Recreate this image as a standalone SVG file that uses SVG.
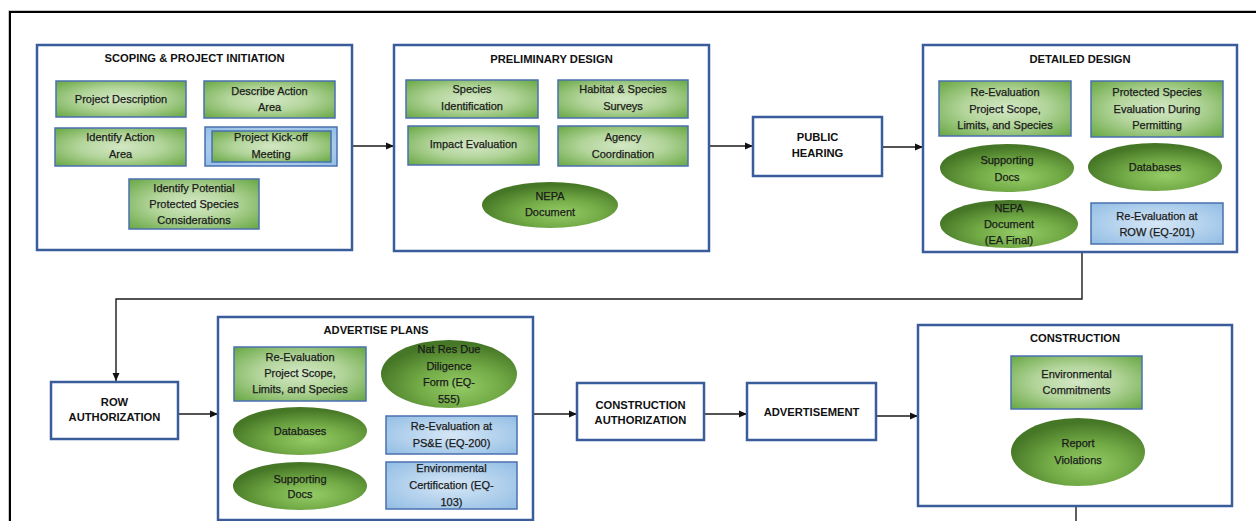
<svg xmlns="http://www.w3.org/2000/svg" width="1256" height="521" viewBox="0 0 1256 521">
<style>
text{font-family:"Liberation Sans",Arial,sans-serif;font-size:11px;fill:#1a1a1a;stroke:#1a1a1a;stroke-width:0.25;text-anchor:middle;dominant-baseline:central}
.t{font-weight:bold;font-size:11.2px;fill:#111;stroke:none}
.stage{fill:#fff;stroke:#3b5c9a;stroke-width:2.5}
.g{fill:url(#gg);stroke:#4a70b0;stroke-width:1.5}
.b{fill:url(#bg);stroke:#4a70b0;stroke-width:1.5}
.e{fill:url(#eg);stroke:none}
.c{fill:none;stroke:#1a1a1a;stroke-width:1.4}
</style>
<defs>
<radialGradient id="gg" cx="50%" cy="50%" r="70%">
<stop offset="0" stop-color="#d3e7c5"/><stop offset="0.45" stop-color="#b3d59b"/><stop offset="1" stop-color="#68a743"/>
</radialGradient>
<radialGradient id="bg" cx="50%" cy="50%" r="70%">
<stop offset="0" stop-color="#d6e7f6"/><stop offset="1" stop-color="#92bde4"/>
</radialGradient>
<radialGradient id="eg" cx="58%" cy="68%" r="62%">
<stop offset="0" stop-color="#95cc68"/><stop offset="0.5" stop-color="#72aa46"/><stop offset="1" stop-color="#467726"/>
</radialGradient>
<marker id="ah" markerUnits="userSpaceOnUse" markerWidth="9" markerHeight="8" refX="8" refY="4" orient="auto">
<path d="M0,0.5 L8,4 L0,7.5 Z" fill="#111"/>
</marker>
</defs>

<g id="frame">
<path d="M8.5,521 V10.5 H1256" fill="none" stroke="#c8c8c8" stroke-width="1"/>
<path d="M10,521 V12 H1256" fill="none" stroke="#000" stroke-width="2"/>
</g>

<g id="connectors">
<line class="c" x1="352" y1="146" x2="394" y2="146" marker-end="url(#ah)"/>
<line class="c" x1="709" y1="146" x2="753" y2="146" marker-end="url(#ah)"/>
<line class="c" x1="882" y1="147" x2="923" y2="147" marker-end="url(#ah)"/>
<path class="c" d="M1082,252 V299 H116 V381" marker-end="url(#ah)"/>
<line class="c" x1="178" y1="414" x2="218" y2="414" marker-end="url(#ah)"/>
<line class="c" x1="533" y1="414" x2="577" y2="414" marker-end="url(#ah)"/>
<line class="c" x1="704" y1="414" x2="747" y2="414" marker-end="url(#ah)"/>
<line class="c" x1="876" y1="416" x2="918" y2="416" marker-end="url(#ah)"/>
<line class="c" x1="1076" y1="506" x2="1076" y2="521"/>
</g>

<g id="scoping">
<rect class="stage" x="37" y="45" width="315" height="205"/>
<text class="t" x="194.5" y="58">SCOPING &amp; PROJECT INITIATION</text>
<g id="project-description"><rect class="g" x="56" y="81" width="130" height="36"/><text x="121" y="99">Project Description</text></g>
<g id="describe-action-area"><rect class="g" x="204" y="81" width="131" height="37"/><text x="269.5" y="91">Describe Action</text><text x="269.5" y="107">Area</text></g>
<g id="identify-action-area"><rect class="g" x="55" y="128" width="131" height="38"/><text x="120.5" y="137">Identify Action</text><text x="120.5" y="154">Area</text></g>
<g id="kickoff"><rect class="b" x="205" y="127" width="132" height="39"/><rect class="g" x="212" y="131" width="119" height="31"/><text x="271" y="137">Project Kick-off</text><text x="271" y="154">Meeting</text></g>
<g id="identify-potential"><rect class="g" x="129" y="179" width="130" height="50"/><text x="194" y="188">Identify Potential</text><text x="194" y="204">Protected Species</text><text x="194" y="220">Considerations</text></g>
</g>

<g id="preliminary">
<rect class="stage" x="394" y="45" width="315" height="206"/>
<text class="t" x="551.5" y="59">PRELIMINARY DESIGN</text>
<g id="species-identification"><rect class="g" x="406" y="80" width="132" height="38"/><text x="472" y="89">Species</text><text x="472" y="106">Identification</text></g>
<g id="habitat-surveys"><rect class="g" x="558" y="80" width="130" height="38"/><text x="623" y="89">Habitat &amp; Species</text><text x="623" y="106">Surveys</text></g>
<g id="impact-evaluation"><rect class="g" x="408" y="126" width="131" height="39"/><text x="473.5" y="144">Impact Evaluation</text></g>
<g id="agency-coordination"><rect class="g" x="558" y="126" width="130" height="40"/><text x="623" y="137">Agency</text><text x="623" y="154">Coordination</text></g>
<g id="nepa-document"><ellipse class="e" cx="550" cy="205" rx="68" ry="23"/><text x="550" y="196">NEPA</text><text x="550" y="212">Document</text></g>
</g>

<g id="public-hearing">
<rect class="stage" x="753" y="117" width="129" height="59"/>
<text class="t" x="817.5" y="137">PUBLIC</text><text class="t" x="817.5" y="153">HEARING</text>
</g>

<g id="detailed">
<rect class="stage" x="923" y="45" width="314" height="207"/>
<text class="t" x="1080" y="59">DETAILED DESIGN</text>
<g id="dd-reevaluation"><rect class="g" x="939" y="81" width="132" height="55"/><text x="1005" y="92">Re-Evaluation</text><text x="1005" y="109">Project Scope,</text><text x="1005" y="125">Limits, and Species</text></g>
<g id="dd-protected"><rect class="g" x="1091" y="81" width="132" height="56"/><text x="1157" y="92">Protected Species</text><text x="1157" y="109">Evaluation During</text><text x="1157" y="125">Permitting</text></g>
<g id="dd-supporting"><ellipse class="e" cx="1007" cy="168" rx="67" ry="24"/><text x="1007" y="160">Supporting</text><text x="1007" y="177">Docs</text></g>
<g id="dd-databases"><ellipse class="e" cx="1155" cy="167" rx="67" ry="24"/><text x="1155" y="167">Databases</text></g>
<g id="dd-nepa"><ellipse class="e" cx="1009" cy="224" rx="69" ry="24"/><text x="1009" y="208">NEPA</text><text x="1009" y="224">Document</text><text x="1009" y="240">(EA Final)</text></g>
<g id="dd-row"><rect class="b" x="1091" y="203" width="132" height="41"/><text x="1157" y="216">Re-Evaluation at</text><text x="1157" y="232">ROW (EQ-201)</text></g>
</g>

<g id="row-authorization">
<rect class="stage" x="51" y="382" width="127" height="57"/>
<text class="t" x="114.5" y="402">ROW</text><text class="t" x="114.5" y="417">AUTHORIZATION</text>
</g>

<g id="advertise-plans">
<rect class="stage" x="218" y="317" width="315" height="203"/>
<text class="t" x="376" y="330">ADVERTISE PLANS</text>
<g id="ap-reevaluation"><rect class="g" x="234" y="347" width="132" height="54"/><text x="300" y="357">Re-Evaluation</text><text x="300" y="373">Project Scope,</text><text x="300" y="389">Limits, and Species</text></g>
<g id="ap-natres"><ellipse class="e" cx="449" cy="374" rx="68" ry="34"/><text x="449" y="349">Nat Res Due</text><text x="449" y="366">Diligence</text><text x="449" y="382">Form (EQ-</text><text x="449" y="399">555)</text></g>
<g id="ap-databases"><ellipse class="e" cx="300" cy="431" rx="67" ry="24"/><text x="300" y="431">Databases</text></g>
<g id="ap-supporting"><ellipse class="e" cx="300" cy="486" rx="67" ry="24"/><text x="300" y="479">Supporting</text><text x="300" y="494">Docs</text></g>
<g id="ap-pse"><rect class="b" x="386" y="416" width="131" height="38"/><text x="451.5" y="426">Re-Evaluation at</text><text x="451.5" y="443">PS&amp;E (EQ-200)</text></g>
<g id="ap-envcert"><rect class="b" x="386" y="462" width="131" height="47"/><text x="451.5" y="468">Environmental</text><text x="451.5" y="485">Certification (EQ-</text><text x="451.5" y="502">103)</text></g>
</g>

<g id="construction-authorization">
<rect class="stage" x="577" y="383" width="127" height="57"/>
<text class="t" x="640.5" y="405">CONSTRUCTION</text><text class="t" x="640.5" y="420">AUTHORIZATION</text>
</g>

<g id="advertisement">
<rect class="stage" x="747" y="383" width="129" height="57"/>
<text class="t" x="811.5" y="412">ADVERTISEMENT</text>
</g>

<g id="construction">
<rect class="stage" x="918" y="325" width="314" height="181"/>
<text class="t" x="1075" y="338">CONSTRUCTION</text>
<g id="env-commitments"><rect class="g" x="1011" y="356" width="131" height="53"/><text x="1076.5" y="374">Environmental</text><text x="1076.5" y="390">Commitments</text></g>
<g id="report-violations"><ellipse class="e" cx="1078" cy="452" rx="67" ry="34"/><text x="1078" y="443">Report</text><text x="1078" y="460">Violations</text></g>
</g>
</svg>
